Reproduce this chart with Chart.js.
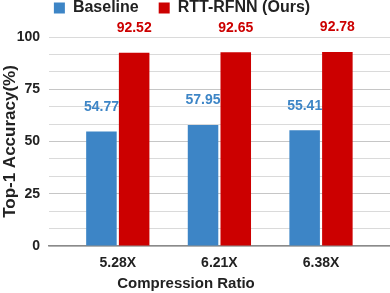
<!DOCTYPE html>
<html>
<head>
<meta charset="utf-8">
<script src="https://cdn.jsdelivr.net/npm/chart.js@4.4.0/dist/chart.umd.min.js"></script>
<style>
  html, body { margin: 0; padding: 0; background: #fff; }
</style>
</head>
<body>
<canvas id="myChart" width="390" height="293"></canvas>
<script>
// data
const categories = ['5.28X', '6.21X', '6.38X'];
const baseline = [54.77, 57.95, 55.41];
const rttRfnn = [92.52, 92.65, 92.78];
const yTicks = [0, 25, 50, 75, 100];
const seriesNames = ['Baseline', 'RTT-RFNN (Ours)'];
const seriesColors = ['#3d85c6', '#cc0000'];

Chart.defaults.font.family = "'Liberation Sans', Arial, sans-serif";
Chart.defaults.color = '#222';

// major ticks every 25 plus two light lines in between
const gridValues = [];
yTicks.forEach((v, i) => {
    gridValues.push(v);
    if (i < yTicks.length - 1) {
        const step = (yTicks[i + 1] - v) / 3;
        gridValues.push(v + step, v + 2 * step);
    }
});
const isMajor = v => yTicks.some(t => Math.abs(t - v) < 1e-6);

// numbers above the bars
const valueLabels = {
    id: 'valueLabels',
    afterDatasetsDraw(chart) {
        const ctx = chart.ctx;
        ctx.save();
        ctx.font = "bold 14px 'Liberation Sans', Arial, sans-serif";
        ctx.textAlign = 'center';
        ctx.textBaseline = 'middle';
        chart.data.datasets.forEach((ds, i) => {
            ctx.fillStyle = seriesColors[i];
            chart.getDatasetMeta(i).data.forEach((bar, j) => {
                ctx.fillText(ds.data[j].y.toFixed(2), bar.x, bar.y - 24.5);
            });
        });
        ctx.restore();
    }
};

// x axis title, a bit left of the plot centre like the original
const xTitle = {
    id: 'xTitle',
    afterDraw(chart) {
        const ctx = chart.ctx;
        ctx.save();
        ctx.font = "bold 15px 'Liberation Sans', Arial, sans-serif";
        ctx.fillStyle = '#222';
        ctx.textAlign = 'center';
        ctx.textBaseline = 'middle';
        ctx.fillText('Compression Ratio', 186, 284);
        ctx.restore();
    }
};

// squeeze the legend into the top strip
const legendNudge = {
    id: 'legendNudge',
    afterInit(chart) {
        const fit = chart.legend.fit;
        chart.legend.fit = function () {
            fit.call(this);
            this.height = 37;
        };
    },
    afterLayout(chart) {
        chart.legend.top -= 20;
        chart.legend.left -= 13;
        chart.legend.right -= 13;
    }
};

const ctx = document.getElementById('myChart').getContext('2d');

const myChart = new Chart(ctx, {
    type: 'bar',
    data: {
        datasets: [{
            label: seriesNames[0],
            data: categories.map((c, i) => ({ x: i, y: baseline[i] })),
            backgroundColor: seriesColors[0]
        }, {
            label: seriesNames[1],
            data: categories.map((c, i) => ({ x: i, y: rttRfnn[i] })),
            backgroundColor: seriesColors[1]
        }]
    },
    options: {
        responsive: false,
        animation: false,
        categoryPercentage: 0.644,
        barPercentage: 0.933,
        layout: { padding: 0 },
        scales: {
            x: {
                type: 'linear',
                offset: false,
                bounds: 'data',
                min: -0.677,
                max: 2.679,
                afterBuildTicks: axis => {
                    axis.ticks = categories.map((c, i) => ({ value: i }));
                },
                afterFit: scale => { scale.height = 47; },
                ticks: {
                    callback: v => categories[v],
                    font: { size: 14, weight: 'bold' },
                    color: '#222',
                    padding: 9,
                    maxRotation: 0,
                    autoSkip: false
                },
                grid: { display: false, drawTicks: false },
                border: { color: '#8a8a8a', width: 1.5 }
            },
            y: {
                min: 0,
                max: 100,
                afterBuildTicks: axis => {
                    axis.ticks = gridValues.map(v => ({ value: v }));
                },
                afterFit: scale => { scale.width = 49; },
                ticks: {
                    callback: v => isMajor(v) ? String(Math.round(v)) : '',
                    font: { size: 14, weight: 'bold' },
                    color: '#222',
                    padding: 9,
                    autoSkip: false
                },
                grid: {
                    drawTicks: false,
                    color: gridValues.map(v => (isMajor(v) && v > 0 && v < 100) ? '#c6c6c6' : '#dadada')
                },
                border: { display: false },
                title: {
                    display: true,
                    text: 'Top-1 Accuracy(%)',
                    font: { size: 17, weight: 'bold' },
                    color: '#222',
                    padding: 0
                }
            }
        },
        plugins: {
            legend: {
                position: 'top',
                labels: {
                    boxWidth: 11,
                    boxHeight: 11,
                    padding: 20,
                    font: { size: 16, weight: 'bold' },
                    color: '#222'
                }
            },
            tooltip: { enabled: false }
        }
    },
    plugins: [valueLabels, xTitle, legendNudge]
});
</script>
</body>
</html>
